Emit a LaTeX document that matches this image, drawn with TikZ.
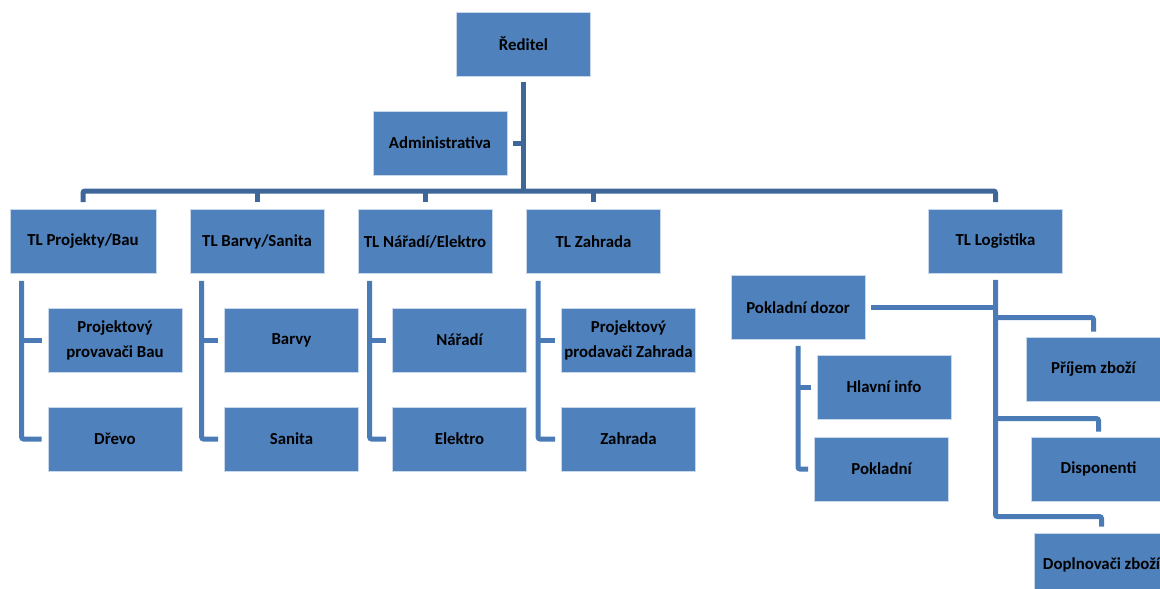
\documentclass[tikz,border=0pt]{standalone}
\usepackage{fontspec}
\setmainfont{Carlito}
\definecolor{boxblue}{HTML}{4F81BD}
\definecolor{boxedge}{HTML}{C9D7EA}
\definecolor{maincon}{HTML}{3E6699}
\definecolor{subcon}{HTML}{4A7BB7}
\begin{document}
\begin{tikzpicture}[x=1pt,y=-1pt,
  box/.style={draw=boxedge, line width=0.8pt, fill=boxblue, minimum width=134pt, minimum height=64pt,
    inner sep=0pt, align=center, font={\fontsize{16.8}{25}\selectfont\bfseries}, text=black},
  mconn/.style={draw=maincon, line width=5pt, rounded corners=2pt},
  sconn/.style={draw=subcon, line width=5pt, rounded corners=2pt}]
\useasboundingbox (0,0) rectangle (1160,589);
\clip (0,0) rectangle (1160,589);
% nodes
\node[box] (red) at (523.5,44) {Ředitel};
\node[box] (adm) at (440,143) {Administrativa};
\node[box, minimum width=146pt] (tl1) at (83,241.5) {TL Projekty/Bau};
\node[box] (tl2) at (257,241.5) {TL Barvy/Sanita};
\node[box] (tl3) at (425,241.5) {TL Nářadí/Elektro};
\node[box] (tl4) at (593.5,241.5) {TL Zahrada};
\node[box] (tl5) at (995.5,241.5) {TL Logistika};
\node[box] (c11) at (115,340) {Projektový\\provavači Bau};
\node[box] (c12) at (115,439) {Dřevo};
\node[box] (c21) at (291.5,340) {Barvy};
\node[box] (c22) at (291.5,439) {Sanita};
\node[box] (c31) at (459.5,340) {Nářadí};
\node[box] (c32) at (459.5,439) {Elektro};
\node[box] (c41) at (628.5,340) {Projektový\\prodavači Zahrada};
\node[box] (c42) at (628.5,439) {Zahrada};
\node[box] (pd) at (798,307.5) {Pokladní dozor};
\node[box] (hi) at (884,387) {Hlavní info};
\node[box] (pk) at (881.5,469) {Pokladní};
\node[box] (pz) at (1093.5,369) {Příjem zboží};
\node[box] (dp) at (1098.5,469) {Disponenti};
\node[box] (dz) at (1101.5,565) {Doplnovači zboží};
% main connectors
\coordinate (bar) at (523.5,191);
\draw[mconn] ([yshift=-6pt]red.south) -- (red.south |- bar);
\draw[mconn] ([xshift=6pt]adm.east) -- (adm.east -| red.south);
\draw[mconn] ([yshift=7pt]tl1.north) |- (bar) -| ([yshift=7pt]tl5.north);
\foreach \n in {tl2,tl3,tl4}
  \draw[mconn] ([yshift=7pt]\n.north) -- (\n.north |- bar);
% department connectors
\foreach \p/\a/\b in {tl1/c11/c12, tl2/c21/c22, tl3/c31/c32, tl4/c41/c42}{
  \coordinate (v) at ([xshift=12pt,yshift=-7pt]\p.south west);
  \draw[sconn] (v) |- ([xshift=-6pt]\b.west);
  \draw[sconn] ([xshift=-6pt]\a.west) -- (\a.west -| v);
}
% Pokladní dozor
\draw[sconn] ([yshift=-6pt]pd.south) |- ([xshift=-6pt]pk.west);
\draw[sconn] ([xshift=-6pt]hi.west) -- (hi.west -| pd.south);
% Logistika
\draw[sconn] ([yshift=-6pt]tl5.south) |- ([yshift=16pt]dz.north) -- ([yshift=6pt]dz.north);
\draw[sconn] ([xshift=6pt]pd.east) -- (pd.east -| tl5.south);
\draw[sconn] ([yshift=19pt]pz.north -| tl5.south) -- ([yshift=19pt]pz.north) -- ([yshift=5pt]pz.north);
\draw[sconn] ([yshift=18pt]dp.north -| tl5.south) -- ([yshift=18pt]dp.north) -- ([yshift=5pt]dp.north);
\end{tikzpicture}
\end{document}
